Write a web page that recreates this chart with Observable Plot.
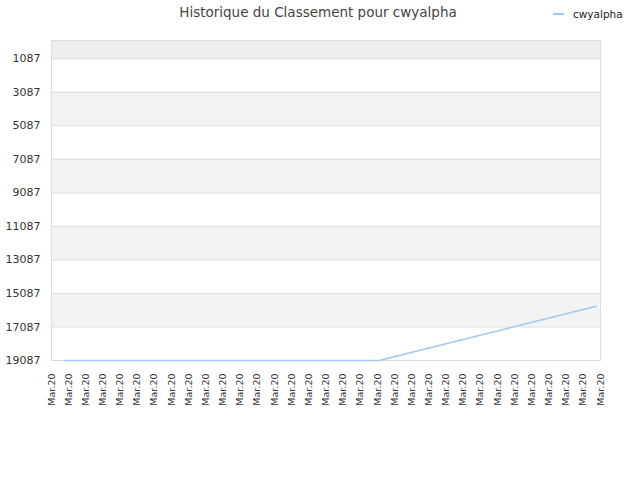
<!DOCTYPE html>
<html><head><meta charset="utf-8">
<script src="https://cdn.jsdelivr.net/npm/d3@7"></script>
<script src="https://cdn.jsdelivr.net/npm/@observablehq/plot@0.6"></script>
<style>
body{margin:0;background:#fff;font-family:"DejaVu Sans",sans-serif;}
#wrap{position:relative;width:640px;height:480px;}
#title{position:absolute;left:0;top:4px;width:636px;text-align:center;font-size:13.5px;color:#444;}
#legend{position:absolute;left:553px;top:8px;font-size:10.5px;color:#222;display:flex;align-items:center;}
#legend span.sw{display:inline-block;width:11px;height:2px;background:#9cc9f5;margin-right:9px;}
</style></head>
<body><div id="wrap">
<div id="title">Historique du Classement pour cwyalpha</div>
<div id="legend"><span class="sw"></span>cwyalpha</div>
<div id="chart"></div>
</div>
<script>
const seriesName = "cwyalpha";
const tickLabels = Array.from({length: 33}, () => "Mar.20");
const tickIndex = tickLabels.map((_, i) => i);
const pointX = [0.75, 19.1, 31.75];
const pointRank = [19087, 19087, 15850];
const yTicks = [1087, 3087, 5087, 7087, 9087, 11087, 13087, 15087, 17087, 19087];
const yMin = 0, yMax = 19087;

const data = pointX.map((x, i) => ({x, rank: pointRank[i]}));
const bands = [{y1: yMin, y2: yTicks[0], fill: "#eeeeee"}];
for (let i = 1; i + 1 < yTicks.length; i += 2) bands.push({y1: yTicks[i], y2: yTicks[i + 1], fill: "#f3f3f3"});

const chart = Plot.plot({
  width: 640, height: 480,
  marginTop: 40, marginBottom: 120, marginLeft: 51, marginRight: 40,
  style: {fontFamily: "DejaVu Sans, sans-serif", fontSize: "11px", color: "#333", background: "transparent"},
  x: {domain: [0, 32], label: null},
  y: {domain: [yMin, yMax], reverse: true, label: null},
  marks: [
    Plot.rectY(bands, {x1: 0, x2: 32, y1: "y1", y2: "y2", fill: "fill"}),
    Plot.ruleY(yTicks, {stroke: "#dddddd", strokeWidth: 1}),
    Plot.frame({stroke: "#dddddd"}),
    Plot.line(data, {x: "x", y: "rank", stroke: "#9cc9f5", strokeWidth: 1.5}),
    Plot.axisX({ticks: tickIndex, tickFormat: i => tickLabels[i], tickRotate: -90, tickSize: 0, tickPadding: 13, fontSize: 9.5, label: null}),
    Plot.axisY({ticks: yTicks, tickFormat: d => String(d), tickSize: 0, tickPadding: 11, fontSize: 11, label: null})
  ]
});
document.getElementById("chart").appendChild(chart);
</script>
</body></html>
